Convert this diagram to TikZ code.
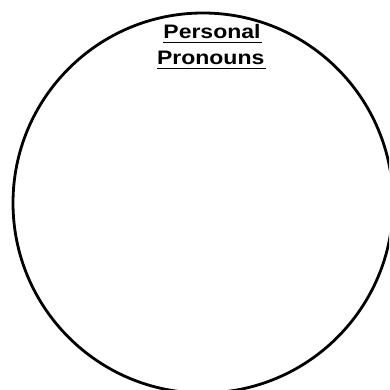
\documentclass[tikz,border=0pt]{standalone}
\usepackage{fontspec}
\setmainfont{Liberation Sans}
\begin{document}
\begin{tikzpicture}[x=1pt,y=-1pt,
  lbl/.style={inner sep=0pt,anchor=base,font=\fontsize{19.5}{24}\selectfont\bfseries},
  uline/.style={line width=1.1pt}]
\useasboundingbox (0,0) rectangle (389,390);
\clip (0,0) rectangle (389,390);
\node[circle,draw,line width=2.8pt,minimum size=380pt,inner sep=0pt] (c) at (203,203) {};
\node[lbl] (t1) at (212,38.7) {\scalebox{1.18}[1]{Personal}};
\node[lbl] (t2) at (210.7,64.7) {\scalebox{1.18}[1]{Pronouns}};
\draw[uline] ([yshift=-3.8pt]t1.base west) -- ([yshift=-3.8pt,xshift=1pt]t1.base east);
\draw[uline] ([yshift=-4.2pt]t2.base west) -- ([yshift=-4.2pt,xshift=1pt]t2.base east);
\end{tikzpicture}
\end{document}
